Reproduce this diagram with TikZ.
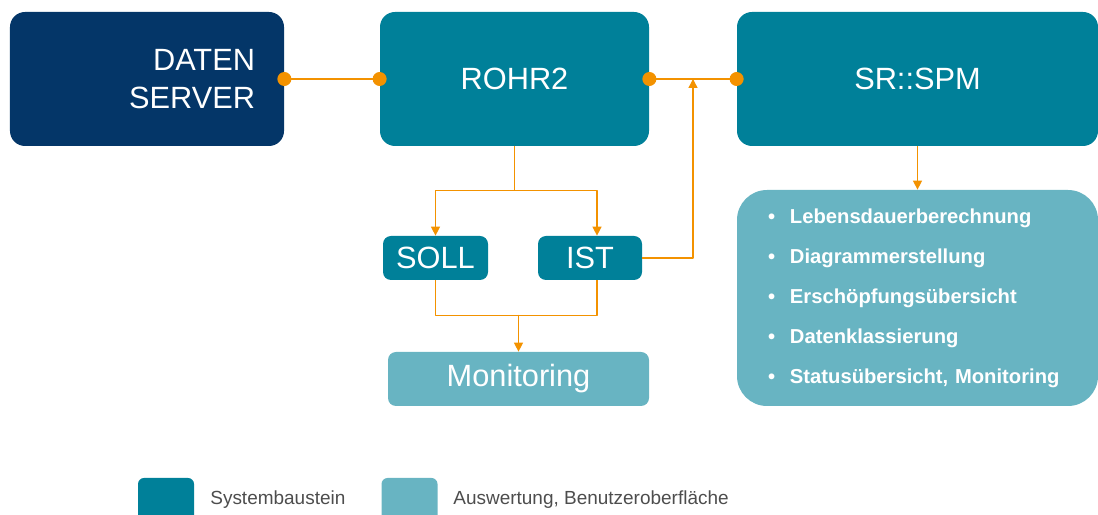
\documentclass[tikz,border=0pt]{standalone}
\usepackage{fontspec}
\setmainfont{Liberation Sans}
\usetikzlibrary{arrows.meta, positioning, calc}

\definecolor{navy}{RGB}{4,54,104}
\definecolor{petrol}{RGB}{0,128,153}
\definecolor{hellpetrol}{RGB}{104,180,194}
\definecolor{akzent}{RGB}{243,146,0}
\definecolor{legendgrau}{RGB}{77,77,77}

\begin{document}
\begin{tikzpicture}[x=0.2mm, y=-0.2mm, line join=round,
    baustein/.style={rounded corners=3mm, fill=petrol, text=white, inner sep=0pt,
      font=\fontsize{17.5}{22}\selectfont},
    auswertung/.style={baustein, fill=hellpetrol},
    fluss/.style={draw=akzent, line width=0.75pt},
    pfeil/.style={fluss, -{Triangle[length=1.8mm, width=1.8mm]}},
    legende/.style={text=legendgrau, inner sep=0pt, anchor=west,
      font=\fontsize{10.8}{13}\selectfont}]
    \clip (0,0) rectangle (1098,515);
    % Systembausteine oben
    \node[baustein, fill=navy, minimum width=54.8mm, minimum height=26.8mm,
      text width=43.2mm, align=right] (server) at (147,79) {DATEN\\SERVER};
    \node[baustein, minimum width=53.8mm, minimum height=26.8mm] (rohr) at (514.5,79) {ROHR2};
    \node[baustein, minimum width=72.2mm, minimum height=26.8mm] (spm) at (917.5,79) {SR::SPM};
    % SOLL / IST
    \node[baustein, rounded corners=1.6mm, minimum width=21mm, minimum height=8.8mm] (soll) at (435.5,258) {SOLL};
    \node[baustein, rounded corners=1.6mm, minimum width=20.8mm, minimum height=8.8mm] (ist) at (590,258) {IST};
    % Auswertung
    \node[auswertung, rounded corners=1.6mm, minimum width=52.2mm, minimum height=10.8mm] (moni) at (518.5,379) {Monitoring};
    \node[auswertung, rounded corners=6mm, minimum width=72.2mm, minimum height=43.2mm,
      text width=59.8mm, align=left, font=\fontsize{11.5}{22.76}\selectfont\bfseries] (liste) at (917.5,298)
      {\makebox[4.4mm][l]{\textbullet}Lebensdauerberechnung\\
       \makebox[4.4mm][l]{\textbullet}Diagrammerstellung\\
       \makebox[4.4mm][l]{\textbullet}Erschöpfungsübersicht\\
       \makebox[4.4mm][l]{\textbullet}Datenklassierung\\
       \makebox[4.4mm][l]{\textbullet}Statusübersicht, Monitoring};
    % Verbindungen
    \draw[fluss] (server.east) -- (rohr.west);
    \draw[fluss] (rohr.east) -- (spm.west);
    \coordinate (knick) at (693,79);
    \draw[pfeil] (ist.east) -| (knick);
    \draw[fluss] (rohr.south) -- ++(0,44) coordinate (teil);
    \draw[pfeil] (teil) -| (soll.north);
    \draw[pfeil] (teil) -| ([xshift=1.4mm]ist.north);
    \draw[fluss] (soll.south) -- ++(0,35) -| ([xshift=1.4mm]ist.south);
    \draw[pfeil] ($(moni.north)+(0,-37)$) -- (moni.north);
    \draw[pfeil] (spm.south) -- (liste.north);
    % Punkte markieren
    \fill[akzent] (server.east) circle (1.4mm);
    \fill[akzent] (rohr.west) circle (1.4mm);
    \fill[akzent] (rohr.east) circle (1.4mm);
    \fill[akzent] (spm.west) circle (1.4mm);
    % Legende
    \node[baustein, rounded corners=1.2mm, minimum width=11.2mm, minimum height=11.2mm] (lgsys) at (166,506) {};
    \node[legende] (txtsys) at (210,500) {Systembaustein};
    \node[auswertung, rounded corners=1.2mm, minimum width=11.2mm, minimum height=11.2mm] (lgausw) at (409.5,506) {};
    \node[legende] (txtausw) at (453,500) {Auswertung, Benutzeroberfläche};
  \end{tikzpicture}
\end{document}
